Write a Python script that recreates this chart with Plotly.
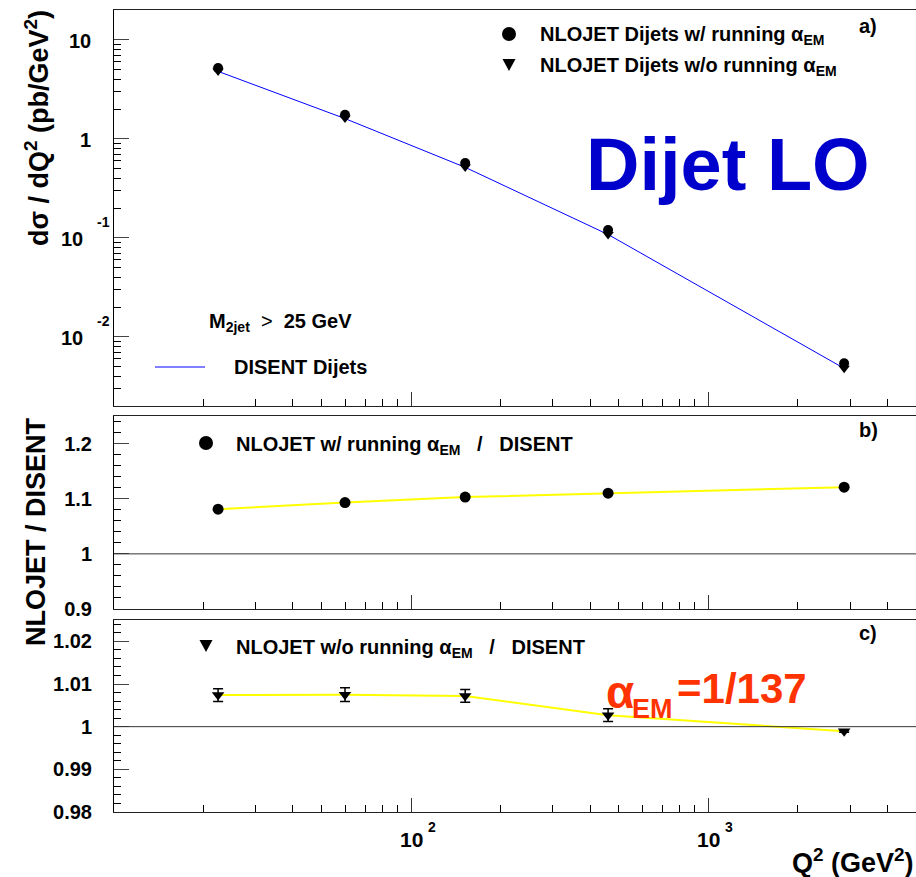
import math
import plotly.graph_objects as go

# ---------------- data ----------------
q2 = [22.4, 59.9, 152.0, 460.0, 2865.0]
xs_run = [5.2, 1.75, 0.57, 0.12, 0.0054]        # NLOJET w/ running alpha_EM
xs_fix = [4.85, 1.62, 0.52, 0.108, 0.0048]      # NLOJET w/o running alpha_EM
xs_disent = [4.8, 1.6, 0.515, 0.108, 0.0048]    # DISENT
ratio_run = [1.081, 1.093, 1.103, 1.110, 1.121]
ratio_fix = [1.0074, 1.0075, 1.0072, 1.0027, 0.9989]
ratio_fix_err = [0.0015, 0.0016, 0.0015, 0.0015, 0.0002]

# axis / tick definitions
x_range = [10, 5000]
x_major = [100, 1000]
x_major_base = ["10", "10"]
x_major_exp = ["2", "3"]
x_minor = [20, 30, 40, 50, 60, 70, 80, 90, 200, 300, 400, 500, 600, 700, 800, 900,
           2000, 3000, 4000, 5000]
ya_range = [0.002, 20]
ya_major = [0.01, 0.1, 1, 10]
ya_base = ["10", "10", "1", "10"]
ya_exp = ["-2", "-1", "", ""]
ya_minor = [m * d for d in (0.001, 0.01, 0.1, 1) for m in range(2, 10) if m * d > 0.0019] + [20]
yb_range = [0.9, 1.25]
yb_major = [0.9, 1.0, 1.1, 1.2]
yb_text = ["0.9", "1", "1.1", "1.2"]
yc_range = [0.98, 1.025]
yc_major = [0.98, 0.99, 1.0, 1.01, 1.02]
yc_text = ["0.98", "0.99", "1", "1.01", "1.02"]
ref_line = 1.0

# ---------------- geometry helpers ----------------
W_FIG, H_FIG = 916, 877
ML, MR, MT, MB = 114, 0, 10, 65
PW = W_FIG - ML - MR
PH = H_FIG - MT - MB
BOTTOM = MT + PH


def px_x(px):
    return (px - ML) / PW


def px_y(py):
    return (BOTTOM - py) / PH


FONT = "Liberation Sans"
BLACK = "#000000"
RED = "#ff3300"
NB = "\u00a0"


def bfont(size, color=BLACK, weight="bold"):
    return dict(family=FONT, size=size, color=color, weight=weight)


fig = go.Figure()

# ---------------- panel a ----------------
fig.add_trace(go.Scatter(x=q2, y=xs_disent, mode="lines", xaxis="x3", yaxis="y3",
                         line=dict(color="#0000ff", width=1), showlegend=False))
fig.add_trace(go.Scatter(x=q2, y=xs_fix, mode="markers", xaxis="x3", yaxis="y3",
                         marker=dict(symbol="triangle-down", size=10, color=BLACK),
                         showlegend=False))
fig.add_trace(go.Scatter(x=q2, y=xs_run, mode="markers", xaxis="x3", yaxis="y3",
                         marker=dict(symbol="circle", size=10, color=BLACK),
                         showlegend=False))

# ---------------- panel b ----------------
fig.add_trace(go.Scatter(x=q2, y=ratio_run, mode="lines", xaxis="x2", yaxis="y2",
                         line=dict(color="#ffff00", width=2), showlegend=False))
fig.add_trace(go.Scatter(x=q2, y=ratio_run, mode="markers", xaxis="x2", yaxis="y2",
                         marker=dict(symbol="circle", size=11, color=BLACK),
                         showlegend=False))

# ---------------- panel c ----------------
fig.add_trace(go.Scatter(x=q2, y=ratio_fix, mode="lines", xaxis="x", yaxis="y",
                         line=dict(color="#ffff00", width=2), showlegend=False))
fig.add_trace(go.Scatter(x=q2, y=ratio_fix, mode="markers", xaxis="x", yaxis="y",
                         marker=dict(symbol="triangle-down", size=11, color=BLACK),
                         error_y=dict(type="data", array=ratio_fix_err, visible=True,
                                      color=BLACK, thickness=1.5, width=5),
                         showlegend=False))

# ---------------- axes ----------------
xlog = [math.log10(v) for v in x_range]


def xaxis_def(anchor):
    return dict(type="log", range=xlog, anchor=anchor, showgrid=False, zeroline=False,
                showline=True, linecolor="#222", linewidth=1, mirror=True,
                ticks="inside", ticklen=14, tickwidth=1, tickcolor="#333",
                tickmode="array", tickvals=x_major, showticklabels=False,
                minor=dict(ticks="inside", ticklen=7, tickwidth=1, tickcolor=BLACK,
                           tickmode="array", tickvals=x_minor))


def yaxis_common(domain, anchor):
    return dict(domain=domain, anchor=anchor, showgrid=False, zeroline=False,
                showline=True, linecolor=BLACK, linewidth=1, mirror=False,
                ticks="inside", ticklen=15, tickwidth=1, tickcolor="#444",
                tickfont=bfont(20), ticklabelstandoff=17)


dom_a = [px_y(406), 1.0]
dom_b = [px_y(609), px_y(416)]
dom_c = [0.0, px_y(620)]

ya = yaxis_common(dom_a, "x3")
ya.update(type="log", range=[math.log10(v) for v in ya_range], tickmode="array",
          tickvals=ya_major, showticklabels=False,
          minor=dict(ticks="inside", ticklen=7, tickwidth=1, tickcolor=BLACK,
                     tickmode="array", tickvals=ya_minor))
yb = yaxis_common(dom_b, "x2")
yb.update(range=yb_range, tickmode="array", tickvals=yb_major, ticktext=yb_text,
          minor=dict(ticks="inside", ticklen=7, tickwidth=1, tickcolor=BLACK, dtick=0.02))
yc = yaxis_common(dom_c, "x")
yc.update(range=yc_range, tickmode="array", tickvals=yc_major, ticktext=yc_text,
          minor=dict(ticks="inside", ticklen=7, tickwidth=1, tickcolor=BLACK, dtick=0.002))

annotations = []

# panel a y tick labels (base + exponent, ROOT style)
for v, b, e in zip(ya_major, ya_base, ya_exp):
    annotations.append(dict(x=px_x(93 if e == "" else 85), xref="paper", xanchor="right",
                            y=math.log10(v), yref="y3", yanchor="middle", yshift=-1,
                            text=b, showarrow=False, font=bfont(20)))
    if e:
        annotations.append(dict(x=px_x(95), xref="paper", xanchor="left",
                                y=math.log10(v), yref="y3", yanchor="middle", yshift=16,
                                text=e, showarrow=False, font=bfont(14)))

# x tick labels
for v, b, e in zip(x_major, x_major_base, x_major_exp):
    annotations.append(dict(x=math.log10(v), xref="x", xanchor="center",
                            y=px_y(839.5), yref="paper", yanchor="middle",
                            text=b, showarrow=False, font=bfont(21)))
    annotations.append(dict(x=math.log10(v), xref="x", xanchor="left", xshift=15,
                            y=px_y(827), yref="paper", yanchor="middle",
                            text=e, showarrow=False, font=bfont(14)))

# axis titles
annotations += [
    dict(x=px_x(916), xref="paper", xanchor="right", y=px_y(861), yref="paper",
         yanchor="middle", text="Q<sup>2</sup> (GeV<sup>2</sup>)", showarrow=False,
         font=bfont(27)),
    dict(x=px_x(37), xref="paper", xanchor="center", y=px_y(128), yref="paper",
         yanchor="middle", textangle=-90,
         text="d\u03c3 / dQ<sup>2</sup> (pb/GeV<sup>2</sup>)", showarrow=False,
         font=bfont(27)),
    dict(x=px_x(36), xref="paper", xanchor="center", y=px_y(532), yref="paper",
         yanchor="middle", textangle=-90, text="NLOJET / DISENT", showarrow=False,
         font=bfont(27)),
]

# panel labels
for lab, py in (("a)", 26), ("b)", 430), ("c)", 633)):
    annotations.append(dict(x=px_x(857), xref="paper", xanchor="left", y=px_y(py),
                            yref="paper", yanchor="middle", text=lab, showarrow=False,
                            font=bfont(20)))

# legends / texts
annotations += [
    dict(x=px_x(538), xref="paper", xanchor="left", y=px_y(36), yref="paper",
         yanchor="middle", text="NLOJET Dijets w/ running \u03b1<sub>EM</sub>",
         showarrow=False, font=bfont(20)),
    dict(x=px_x(538), xref="paper", xanchor="left", y=px_y(67), yref="paper",
         yanchor="middle", text="NLOJET Dijets w/o running \u03b1<sub>EM</sub>",
         showarrow=False, font=bfont(20)),
    dict(x=px_x(728), xref="paper", xanchor="center", y=px_y(164), yref="paper",
         yanchor="middle", text="Dijet LO", showarrow=False,
         font=bfont(74, "#0000cc")),
    dict(x=px_x(207), xref="paper", xanchor="left", y=px_y(322), yref="paper",
         yanchor="middle",
         text="M<sub>2jet</sub>" + NB * 2 + "<span style='font-weight:normal'>&gt;</span>"
              + NB * 2 + "25 GeV",
         showarrow=False, font=bfont(20)),
    dict(x=px_x(232), xref="paper", xanchor="left", y=px_y(367), yref="paper",
         yanchor="middle", text="DISENT Dijets", showarrow=False, font=bfont(20)),
    dict(x=px_x(234), xref="paper", xanchor="left", y=px_y(445), yref="paper",
         yanchor="middle",
         text="NLOJET w/ running \u03b1<sub>EM</sub>" + NB * 3 + "/" + NB * 3 + "DISENT",
         showarrow=False, font=bfont(20)),
    dict(x=px_x(234), xref="paper", xanchor="left", y=px_y(648), yref="paper",
         yanchor="middle",
         text="NLOJET w/o running \u03b1<sub>EM</sub>" + NB * 3 + "/" + NB * 3 + "DISENT",
         showarrow=False, font=bfont(20)),
    dict(x=px_x(604), xref="paper", xanchor="left", y=px_y(692), yref="paper",
         yanchor="middle", text="\u03b1", showarrow=False,
         font=bfont(46, RED)),
    dict(x=px_x(630), xref="paper", xanchor="left", y=px_y(709), yref="paper",
         yanchor="middle", text="EM", showarrow=False, font=bfont(27, RED)),
    dict(x=px_x(675), xref="paper", xanchor="left", y=px_y(688), yref="paper",
         yanchor="middle", text="=1/137", showarrow=False, font=bfont(42, RED)),
]

# ---------------- shapes ----------------
shapes = []
for yref, xref in (("y2", "x2"), ("y", "x")):
    shapes.append(dict(type="line", xref=xref + " domain", x0=0, x1=1, yref=yref,
                       y0=ref_line, y1=ref_line, line=dict(color="#333", width=1)))


def legend_circle(cx, cy, d):
    r = d / 2
    return dict(type="circle", xref="paper", yref="paper", xsizemode="pixel",
                ysizemode="pixel", xanchor=px_x(cx), yanchor=px_y(cy),
                x0=-r, x1=r, y0=-r, y1=r, fillcolor=BLACK, line=dict(width=0))


def legend_tri(cx, cy, w, h):
    return dict(type="path", xref="paper", yref="paper", xsizemode="pixel",
                ysizemode="pixel", xanchor=px_x(cx), yanchor=px_y(cy),
                path=f"M {-w/2} {h/2} L {w/2} {h/2} L 0 {-h/2} Z",
                fillcolor=BLACK, line=dict(width=0))


shapes += [
    legend_circle(509, 34, 14),
    legend_tri(509, 65, 13, 12),
    legend_circle(206, 443, 14),
    legend_tri(206, 646, 13, 12),
    dict(type="line", xref="paper", yref="paper", x0=px_x(155), x1=px_x(205),
         y0=px_y(367), y1=px_y(367), line=dict(color="#0000ff", width=1)),
]

fig.update_layout(
    width=W_FIG, height=H_FIG,
    margin=dict(l=ML, r=MR, t=MT, b=MB, pad=0),
    paper_bgcolor="white", plot_bgcolor="white",
    showlegend=False,
    xaxis=xaxis_def("y"), xaxis2=xaxis_def("y2"), xaxis3=xaxis_def("y3"),
    yaxis=yc, yaxis2=yb, yaxis3=ya,
    annotations=annotations, shapes=shapes,
    font=dict(family=FONT),
)

fig.write_html("out.html")
